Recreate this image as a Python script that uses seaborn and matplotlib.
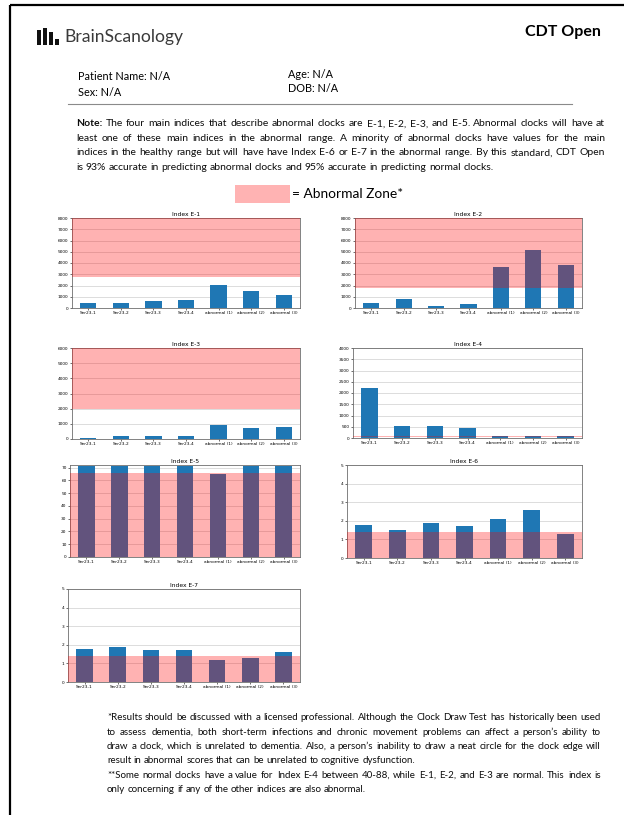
import matplotlib
matplotlib.use("Agg")
import matplotlib.pyplot as plt
import seaborn as sns
from matplotlib.patches import Rectangle

# x-axis categories (same for every index chart)
clocks = ["Ser23-1", "Ser23-2", "Ser23-3", "Ser23-4",
          "abnormal (1)", "abnormal (2)", "abnormal (3)"]

# values
e1 = [440, 440, 590, 710, 2010, 1540, 1120]
e2 = [420, 800, 180, 330, 3670, 5150, 3820]
e3 = [60, 170, 200, 220, 920, 750, 790]
e4 = [2220, 550, 540, 430, 75, 90, 105]
e5 = [71, 71, 71, 71, 65, 71, 71]
e6 = [1.8, 1.5, 1.9, 1.7, 2.1, 2.6, 1.3]
e7 = [1.8, 1.9, 1.7, 1.7, 1.2, 1.3, 1.6]

# abnormal zone of each index (low, high)
zone_e1 = (2800, 8000)
zone_e2 = (1750, 8000)
zone_e3 = (2000, 6000)
zone_e4 = (40, 88)
zone_e5 = (0, 66)
zone_e6 = (0, 1.4)
zone_e7 = (0, 1.4)

# y axis top and tick step
ytop = [8000, 8000, 6000, 4000, 72, 5, 5]
ystep = [1000, 1000, 1000, 500, 10, 1, 1]

note_lines = [
    "Note: The four main indices that describe abnormal clocks are E-1, E-2, E-3, and E-5. Abnormal clocks will have at",
    "least one of these main indices in the abnormal range. A minority of abnormal clocks have values for the main",
    "indices in the healthy range but will have have Index E-6 or E-7 in the abnormal range. By this standard, CDT Open",
    "is 93% accurate in predicting abnormal clocks and 95% accurate in predicting normal clocks.",
]
foot_lines = [
    "*Results should be discussed with a licensed professional. Although the Clock Draw Test has historically been used",
    "to assess dementia, both short-term infections and chronic movement problems can affect a person\u2019s ability to",
    "draw a clock, which is unrelated to dementia. Also, a person\u2019s inability to draw a neat circle for the clock edge will",
    "result in abnormal scores that can be unrelated to cognitive dysfunction.",
    "**Some normal clocks have a value for Index E-4 between 40-88, while E-1, E-2, and E-3 are normal. This index is",
    "only concerning if any of the other indices are also abnormal.",
]

plt.rcParams["font.family"] = ["Lato", "DejaVu Sans"]

W, H = 624, 815
fig = plt.figure(figsize=(W / 100, H / 100), dpi=100)

# page layer in pixel coordinates
bg = fig.add_axes([0, 0, 1, 1])
bg.set_xlim(0, W)
bg.set_ylim(H, 0)
bg.axis("off")
renderer = fig.canvas.get_renderer()


def text_width(s, size, weight="normal"):
    t = bg.text(0, 0, s, fontsize=size, fontweight=weight)
    w = t.get_window_extent(renderer).width
    t.remove()
    return w


def paragraph(lines, x0, x1, y0, dy, free, bold_first=False):
    # fit font size so the widest line fills the column, then justify
    size = 10 * (x1 - x0) / max(text_width(l, 10) for l in lines)
    size *= 0.99
    sp = text_width("a a", size) - text_width("aa", size)
    for i, line in enumerate(lines):
        y = y0 + i * dy
        words = line.split(" ")
        weights = ["normal"] * len(words)
        if bold_first and i == 0:
            weights[0] = "bold"
        widths = [text_width(w, size, wt) for w, wt in zip(words, weights)]
        if i in free:
            gap = sp
        else:
            gap = (x1 - x0 - sum(widths)) / (len(words) - 1)
        x = x0
        for w, wt, wd in zip(words, weights, widths):
            bg.text(x, y, w, fontsize=size, fontweight=wt, va="center", color="#0d0d0d")
            x += wd + gap


# page border (left and top edges only are visible)
bg.plot([9.5, 9.5], [4.5, H], color="black", lw=1.6, solid_capstyle="butt")
bg.plot([9.5, W], [4.5, 4.5], color="black", lw=1.6, solid_capstyle="butt")

# logo
for bx, bh in zip([37, 43, 49, 55], [15, 17, 13, 6]):
    bg.add_patch(Rectangle((bx, 45 - bh), 4.2, bh, color="#111111", lw=0))
bg.text(64, 37, "BrainScanology", fontsize=12.6, color="#3a3a3a", va="center")
bg.text(601, 32, "CDT Open", fontsize=11.5, fontweight="bold", va="center", ha="right")

bg.text(78, 77, "Patient Name: N/A", fontsize=7.8, va="center")
bg.text(78, 92, "Sex: N/A", fontsize=7.8, va="center")
bg.text(288, 74, "Age: N/A", fontsize=7.8, va="center")
bg.text(288, 89, "DOB: N/A", fontsize=7.8, va="center")
bg.plot([68, 572], [104, 104], color="#8a8a8a", lw=0.8)

paragraph(note_lines, 76, 605, 124, 14.4, free={3}, bold_first=True)

bg.add_patch(Rectangle((235, 185), 55, 18, color="#ffb3b3", lw=0))
bg.text(292, 194, "= Abnormal Zone*", fontsize=9.9, va="center")

paragraph(foot_lines, 107, 601, 718, 14.3, free={3, 5})

# chart boxes in pixels: left, right, top, bottom
boxes = [
    (72, 300, 218, 308),
    (355, 582, 218, 308),
    (72, 300, 348, 439),
    (353, 582, 348, 438),
    (70, 300, 465, 557),
    (347, 582, 465, 558),
    (68, 300, 589, 682),
]
series = [e1, e2, e3, e4, e5, e6, e7]
zones = [zone_e1, zone_e2, zone_e3, zone_e4, zone_e5, zone_e6, zone_e7]

for k, (vals, zone, box) in enumerate(zip(series, zones, boxes)):
    l, r, t, b = box
    ax = fig.add_axes([l / W, 1 - b / H, (r - l) / W, (b - t) / H])
    sns.barplot(x=clocks, y=vals, color="#1f77b4", saturation=1, width=0.5,
                errorbar=None, ax=ax)
    ax.axhspan(zone[0], zone[1], color="red", alpha=0.3, lw=0, zorder=3)
    ax.set_ylim(0, ytop[k])
    ticks = [i * ystep[k] for i in range(int(ytop[k] // ystep[k]) + 1)]
    ax.set_yticks(ticks)
    ax.set_xlim(-0.5, len(clocks) - 0.5)
    ax.yaxis.grid(True, color="#cfcfcf", lw=0.5)
    ax.set_axisbelow(True)
    ax.set_title(f"Index E-{k + 1}", fontsize=4.3, pad=1.5, family="DejaVu Sans")
    ax.tick_params(labelsize=3.1, length=1.5, width=0.4, pad=1)
    for lab in ax.get_xticklabels() + ax.get_yticklabels():
        lab.set_family("DejaVu Sans")
    for sp in ax.spines.values():
        sp.set_color("#6e6e6e")
        sp.set_linewidth(0.6)
    ax.set_xlabel("")
    ax.set_ylabel("")

fig.savefig("out.png", dpi=100)
